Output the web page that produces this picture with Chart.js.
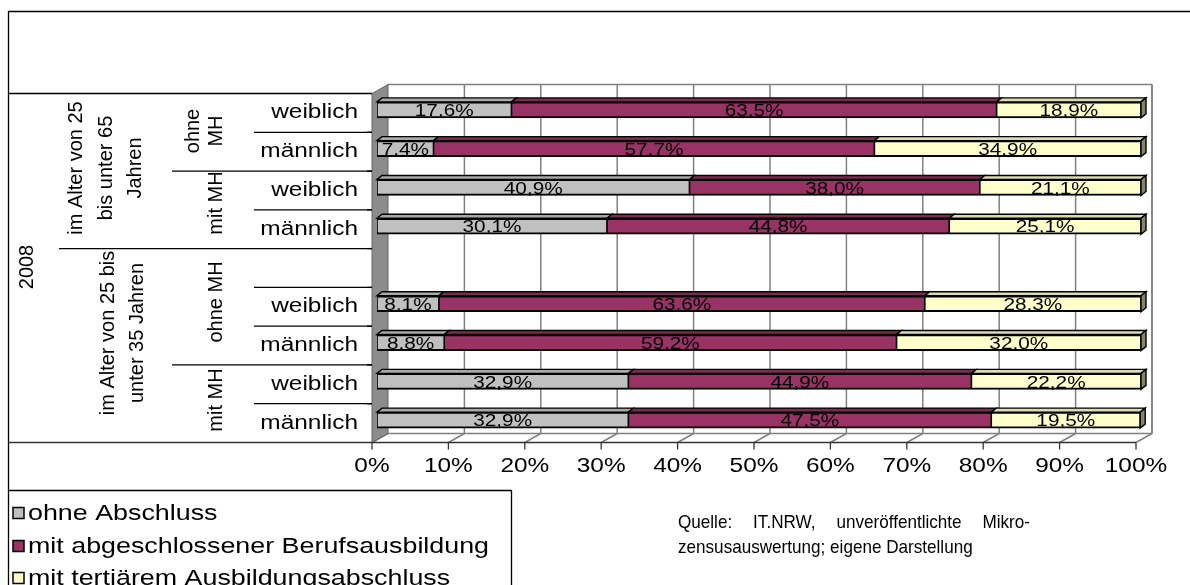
<!DOCTYPE html>
<html><head><meta charset="utf-8">
<script src="https://cdn.jsdelivr.net/npm/chart.js@4.4.1/dist/chart.umd.min.js"></script>
<style>html,body{margin:0;padding:0;background:#fff;overflow:hidden}canvas{display:block}</style>
</head><body>
<canvas id="c" width="1190" height="585" style="width:1190px;height:585px"></canvas>
<script>
// ---------------- data ----------------
const categories = ['weiblich','männlich','weiblich','männlich','','weiblich','männlich','weiblich','männlich'];
const ohneAbschluss    = [17.6,  7.4, 40.9, 30.1, null,  8.1,  8.8, 32.9, 32.9];
const berufsausbildung = [63.5, 57.7, 38.0, 44.8, null, 63.6, 59.2, 44.9, 47.5];
const tertiaer         = [18.9, 34.9, 21.1, 25.1, null, 28.3, 32.0, 22.2, 19.5];
const seriesNames = ['ohne Abschluss','mit abgeschlossener Berufsausbildung','mit tertiärem Ausbildungsabschluss'];
const xTicks = [0,10,20,30,40,50,60,70,80,90,100];
const yearLabel = '2008';
const ageGroups = [['im Alter von 25','bis unter 65','Jahren'], ['im Alter von 25 bis','unter 35 Jahren']];
const ageSpans = [4, 5];
const mhGroups = [['ohne','MH'], ['mit MH'], ['ohne MH'], ['mit MH']];
const mhSpans = [2, 2, 3, 2];
const sourceLines = ['Quelle: IT.NRW, unveröffentlichte Mikro-', 'zensusauswertung; eigene Darstellung'];

// ---------------- style / layout ----------------
const K = 1.22;                       // horizontal text stretch of the original
const FONT = '"Liberation Sans", Arial, sans-serif';
const fills = ['#C0C0C0','#993366','#FFFFCC'];
const topFills = ['#a9a9a9','#7b2a52','#dcdcae'];
const endFills = ['#8a8a8a','#5e1f3e','#85856a'];
const BAR = {L:377, R:1141, T:90.5, B:439.5};
const FRONT = {dx:-5, dy:3}, BACK = {dx:11, dy:-6}, DEPTH = {dx:5, dy:-4};
const YAXIS_W = 130;                  // real px reserved for category labels

function ln(ctx,x1,y1,x2,y2){ctx.beginPath();ctx.moveTo(x1,y1);ctx.lineTo(x2,y2);ctx.stroke();}
function poly(ctx,pts,fill,stroke,lw){
  ctx.beginPath(); ctx.moveTo(pts[0][0],pts[0][1]);
  for(let i=1;i<pts.length;i++) ctx.lineTo(pts[i][0],pts[i][1]);
  ctx.closePath();
  if(fill){ctx.fillStyle=fill;ctx.fill();}
  if(stroke){ctx.strokeStyle=stroke;ctx.lineWidth=lw||1;ctx.stroke();}
}
function rotText(ctx,txt,cx,cy,size){
  ctx.save(); ctx.translate(cx,cy); ctx.rotate(-Math.PI/2);
  ctx.font=size+'px '+FONT; ctx.textAlign='center'; ctx.textBaseline='middle'; ctx.fillStyle='#000';
  ctx.fillText(txt,0,0); ctx.restore();
}
function hText(ctx,txt,x,y,size,align,sx){
  ctx.save(); ctx.translate(x,y); ctx.scale(sx,1);
  ctx.font=size+'px '+FONT; ctx.textAlign=align; ctx.textBaseline='middle'; ctx.fillStyle='#000';
  ctx.fillText(txt,0,0); ctx.restore();
}

function geom(chart){
  const a = chart.chartArea;
  const bl=a.left*K, br=a.right*K, bt=a.top, bb=a.bottom;
  return {bl,br,bt,bb,
    FL:bl+FRONT.dx, FR:br+FRONT.dx, FT:bt+FRONT.dy, FB:bb+FRONT.dy,
    BL:bl+BACK.dx, BR:br+BACK.dx, BT:bt+BACK.dy, BB:bb+BACK.dy};
}

function drawBackground(chart){
  const ctx=chart.ctx, g=geom(chart), xs=chart.scales.x;
  ctx.save(); ctx.setTransform(1,0,0,1,0,0);
  ctx.fillStyle='#fff'; ctx.fillRect(0,0,1190,585);
  // outer frame
  ctx.strokeStyle='#000'; ctx.lineWidth=1.3;
  ln(ctx,8,11.5,1190,11.5); ln(ctx,8.5,11,8.5,585);
  // floor
  poly(ctx,[[g.FL,g.FB],[g.FR,g.FB],[g.BR,g.BB],[g.BL,g.BB]],'#fff');
  ctx.strokeStyle='#808080'; ctx.lineWidth=1.5;
  xTicks.forEach(v=>{const xf=xs.getPixelForValue(v)*K+FRONT.dx; ln(ctx,xf,g.FB,xf+(BACK.dx-FRONT.dx),g.BB);});
  ln(ctx,g.BL,g.BB,g.BR,g.BB);
  // back wall + gridlines
  ln(ctx,g.BL,g.BT,g.BR,g.BT); ln(ctx,g.BR,g.BT,g.BR,g.BB);
  xTicks.forEach(v=>{ if(v===0) return; const x=xs.getPixelForValue(v)*K+BACK.dx; ln(ctx,x,g.BT,x,g.BB);});
  // left wall
  poly(ctx,[[g.FL,g.FT],[g.BL,g.BT],[g.BL,g.BB],[g.FL,g.FB]],'#8c8c8c','#666',1);
  // front axis line and ticks
  ctx.strokeStyle='#333'; ctx.lineWidth=1.3;
  ln(ctx,8,g.FB,g.FR,g.FB);
  xTicks.forEach(v=>{const xf=xs.getPixelForValue(v)*K+FRONT.dx; ln(ctx,xf,g.FB,xf,g.FB+7);});
  // category table
  ctx.strokeStyle='#000'; ctx.lineWidth=1.3;
  ln(ctx,8,g.FT,g.FL,g.FT);
  const n=categories.length, rh=(g.FB-g.FT)/n;
  const ageB=new Set(), mhB=new Set();
  let s=0; ageSpans.forEach(k=>{s+=k; ageB.add(s);});
  s=0; mhSpans.forEach(k=>{s+=k; mhB.add(s);});
  for(let k=1;k<n;k++){
    const y=g.FT+k*rh;
    const x0 = ageB.has(k)?59:(mhB.has(k)?172:254);
    ln(ctx,x0,y,g.FL,y);
    ln(ctx,g.FL-5,y,g.FL,y);
  }
  // rotated hierarchy labels
  rotText(ctx,yearLabel,27,267,20);
  const agePos=[{x:[76,106,135],y:168},{x:[108,137],y:333}];
  ageGroups.forEach((lines,i)=>lines.forEach((t,j)=>rotText(ctx,t,agePos[i].x[j],agePos[i].y,20)));
  const mhPos=[{x:[193,216],y:131},{x:[216],y:203},{x:[216],y:302},{x:[216],y:400}];
  mhGroups.forEach((lines,i)=>lines.forEach((t,j)=>rotText(ctx,t,mhPos[i].x[j],mhPos[i].y,20)));
  // legend box
  ctx.strokeStyle='#000'; ctx.lineWidth=1.3;
  ln(ctx,8,490.5,511.5,490.5); ln(ctx,511.5,490,511.5,585);
  const ly=[513,546,578];
  chart.data.datasets.forEach((d,i)=>{
    ctx.fillStyle=d.backgroundColor; ctx.fillRect(13,ly[i]-5.5,11,11);
    ctx.strokeStyle='#000'; ctx.lineWidth=1.5; ctx.strokeRect(13,ly[i]-5.5,11,11);
    hText(ctx,d.label,28,ly[i]+1,22,'left',K);
  });
  // source (justified first line, condensed)
  const SX=0.9;
  ctx.save(); ctx.scale(SX,1);
  ctx.font='19px '+FONT; ctx.fillStyle='#000'; ctx.textBaseline='middle'; ctx.textAlign='left';
  const words=sourceLines[0].split(' ');
  const wsum=words.reduce((a,w)=>a+ctx.measureText(w).width,0);
  const gap=((1030-678)/SX-wsum)/(words.length-1);
  let x=678/SX; words.forEach(w=>{ctx.fillText(w,x,523); x+=ctx.measureText(w).width+gap;});
  ctx.fillText(sourceLines[1],678/SX,548);
  ctx.restore();
  ctx.restore();
}

function draw3D(chart){
  const ctx=chart.ctx;
  ctx.save(); ctx.setTransform(1,0,0,1,0,0);
  const nd=chart.data.datasets.length;
  for(let di=0;di<nd;di++){
    const meta=chart.getDatasetMeta(di);
    meta.data.forEach((el,r)=>{
      const v=chart.data.datasets[di].data[r];
      if(v==null) return;
      const x0=Math.min(el.base,el.x)*K, x1=Math.max(el.base,el.x)*K;
      const yT=el.y-el.height/2, yB=el.y+el.height/2;
      poly(ctx,[[x0,yT],[x1,yT],[x1+DEPTH.dx,yT+DEPTH.dy],[x0+DEPTH.dx,yT+DEPTH.dy]],topFills[di],'#000',1.4);
      if(di===nd-1) poly(ctx,[[x1,yT],[x1+DEPTH.dx,yT+DEPTH.dy],[x1+DEPTH.dx,yB+DEPTH.dy],[x1,yB]],endFills[di],'#000',1.4);
    });
  }
  ctx.restore();
  // value labels (in stretched space)
  ctx.save();
  ctx.font='17px '+FONT; ctx.fillStyle='#000'; ctx.textAlign='center'; ctx.textBaseline='middle';
  for(let di=0;di<nd;di++){
    const meta=chart.getDatasetMeta(di);
    meta.data.forEach((el,r)=>{
      const v=chart.data.datasets[di].data[r];
      if(v==null) return;
      ctx.fillText(v.toFixed(1).replace('.',',')+'%',(el.x+el.base)/2,el.y+1.5);
    });
  }
  ctx.restore();
}

const plugin3d = {
  id:'excel3d',
  beforeDraw(chart){ drawBackground(chart); chart.ctx.save(); chart.ctx.setTransform(K,0,0,1,0,0); },
  afterDatasetsDraw(chart){ draw3D(chart); },
  afterDraw(chart){ chart.ctx.restore(); }
};

const mk=(label,data,i)=>({label,data,backgroundColor:fills[i],borderColor:'#000',
  borderWidth:{top:2,bottom:2,left:1,right:1},borderSkipped:false,barThickness:16});

new Chart(document.getElementById('c'),{
  type:'bar',
  data:{labels:categories,datasets:[mk(seriesNames[0],ohneAbschluss,0),mk(seriesNames[1],berufsausbildung,1),mk(seriesNames[2],tertiaer,2)]},
  options:{
    indexAxis:'y', responsive:false, animation:false, devicePixelRatio:1,
    layout:{padding:{left:(BAR.L-YAXIS_W)/K, right:1190-BAR.R/K, top:BAR.T, bottom:585-BAR.B-40}},
    plugins:{legend:{display:false},tooltip:{enabled:false},title:{display:false}},
    scales:{
      x:{type:'linear',stacked:true,min:0,max:100,position:'bottom',
         grid:{display:false,drawTicks:false},border:{display:false},
         afterBuildTicks(s){ s.ticks=xTicks.map(v=>({value:v})); },
         ticks:{callback:v=>v+'%',font:{family:FONT,size:20},color:'#000',padding:14.5,labelOffset:FRONT.dx/K,maxRotation:0,autoSkip:false},
         afterFit(s){ s.height=40; }},
      y:{type:'category',stacked:true,grid:{display:false,drawTicks:false},border:{display:false},
         ticks:{font:{family:FONT,size:20},color:'#000',padding:19/K,labelOffset:FRONT.dy,autoSkip:false},
         afterFit(s){ s.width=YAXIS_W/K; }}
    }
  },
  plugins:[plugin3d]
});
</script>
</body></html>
